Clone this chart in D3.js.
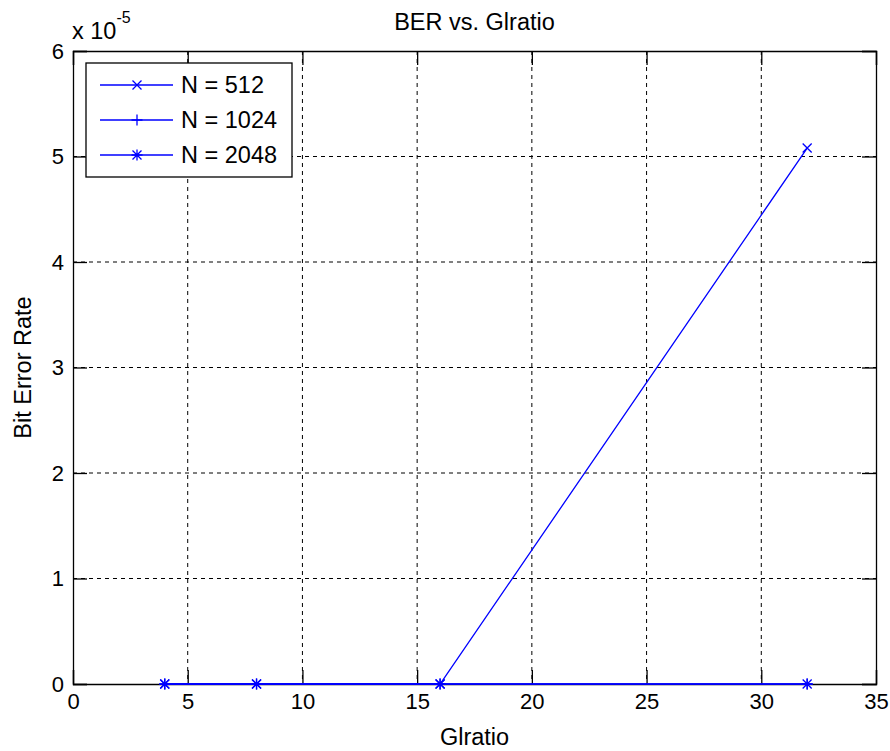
<!DOCTYPE html>
<html><head><meta charset="utf-8">
<script src="https://cdn.jsdelivr.net/npm/d3@7"></script>
<style>body{margin:0;background:#fff}svg{display:block}text{font-family:Arial,"Liberation Sans",sans-serif;fill:#000}</style>
</head><body><svg id="c" width="890" height="751"></svg>
<script>
const glratio = [4, 8, 16, 32];
const ber512 = [0, 0, 0, 5.08e-5];
const ber1024 = [0, 0, 0, 0];
const ber2048 = [0, 0, 0, 0];
const seriesNames = ["N = 512", "N = 1024", "N = 2048"];
const seriesMarkers = ["x", "plus", "star"];
const xTicks = [0, 5, 10, 15, 20, 25, 30, 35];
const yTicks = [0, 1, 2, 3, 4, 5, 6];

const svg = d3.select("#c");
const L = 73, R = 876, T = 51, B = 684;
const x = d3.scaleLinear().domain([0, 35]).range([L, R]);
const y = d3.scaleLinear().domain([0, 6e-5]).range([B, T]);
const fsT = 22, fs = 23.5;

// grid
const g = svg.append("g");
xTicks.slice(1, -1).forEach(v => g.append("line").attr("x1", x(v)).attr("x2", x(v)).attr("y1", T).attr("y2", B)
  .attr("stroke", "#000").attr("stroke-width", 1).attr("stroke-dasharray", "4,4"));
yTicks.slice(1, -1).forEach(v => g.append("line").attr("y1", y(v * 1e-5)).attr("y2", y(v * 1e-5)).attr("x1", L).attr("x2", R)
  .attr("stroke", "#000").attr("stroke-width", 1).attr("stroke-dasharray", "4,4"));

// axes with inward ticks
const tl = 14;
const xb = d3.axisBottom(x).tickValues(xTicks).tickSize(-tl).tickPadding(9);
const xt = d3.axisTop(x).tickValues(xTicks).tickSize(-tl).tickFormat("");
const yl = d3.axisLeft(y).tickValues(yTicks.map(v => v * 1e-5)).tickSize(-tl).tickPadding(9).tickFormat(d => Math.round(d * 1e5));
const yr = d3.axisRight(y).tickValues(yTicks.map(v => v * 1e-5)).tickSize(-tl).tickFormat("");
function style(sel) {
  sel.selectAll("path,line").attr("stroke", "#000").attr("stroke-width", 1.3);
  sel.selectAll("text").attr("font-size", fsT).attr("font-family", "Arial, 'Liberation Sans', sans-serif").attr("fill", "#000");
}
svg.append("g").attr("transform", `translate(0,${B})`).call(xb).call(style);
svg.append("g").attr("transform", `translate(0,${T})`).call(xt).call(style);
svg.append("g").attr("transform", `translate(${L},0)`).call(yl).call(style);
svg.append("g").attr("transform", `translate(${R},0)`).call(yr).call(style);

// multiplier
const mt = svg.append("text").attr("x", 72).attr("y", 39).attr("font-size", fs);
mt.append("tspan").text("x 10");
mt.append("tspan").attr("dy", -16).attr("font-size", 16).text("-5");

// titles
svg.append("text").attr("x", (L + R) / 2).attr("y", 30).attr("text-anchor", "middle").attr("font-size", fs).text("BER vs. Glratio");
svg.append("text").attr("x", (L + R) / 2).attr("y", 745).attr("text-anchor", "middle").attr("font-size", fs).text("Glratio");
svg.append("text").attr("transform", `translate(31,${(T + B) / 2}) rotate(-90)`).attr("text-anchor", "middle").attr("font-size", fs).text("Bit Error Rate");

// markers
const blue = "#0000ff";
function marker(sel, type, cx, cy) {
  const p = sel.append("path").attr("transform", `translate(${cx},${cy})`).attr("fill", "none").attr("stroke", blue).attr("stroke-width", 1.3);
  const s = 4.5;
  if (type === "x") p.attr("d", `M${-s},${-s}L${s},${s}M${-s},${s}L${s},${-s}`);
  else if (type === "plus") p.attr("d", `M${-s - 1},0L${s + 1},0M0,${-s - 1}L0,${s + 1}`);
  else p.attr("d", `M${-s - 1},0L${s + 1},0M0,${-s - 1}L0,${s + 1}M${-s},${-s}L${s},${s}M${-s},${s}L${s},${-s}`);
}

const data = [ber512, ber1024, ber2048];
const line = d3.line().x(d => x(d[0])).y(d => y(d[1]));
data.forEach((vals, i) => {
  const pts = glratio.map((g, j) => [g, vals[j]]);
  svg.append("path").datum(pts).attr("d", line).attr("fill", "none").attr("stroke", blue).attr("stroke-width", 1.3);
  pts.forEach(p => marker(svg, seriesMarkers[i], x(p[0]), y(p[1])));
});

// legend
const lg = svg.append("g");
lg.append("rect").attr("x", 86).attr("y", 63).attr("width", 206).attr("height", 114).attr("fill", "#fff").attr("stroke", "#000").attr("stroke-width", 1.3);
seriesNames.forEach((n, i) => {
  const yy = 85 + i * 35;
  lg.append("line").attr("x1", 100).attr("x2", 173).attr("y1", yy).attr("y2", yy).attr("stroke", blue).attr("stroke-width", 1.3);
  marker(lg, seriesMarkers[i], 137, yy);
  lg.append("text").attr("x", 181).attr("y", yy).attr("dy", "0.36em").attr("font-size", fs).text(n);
});
</script></body></html>
